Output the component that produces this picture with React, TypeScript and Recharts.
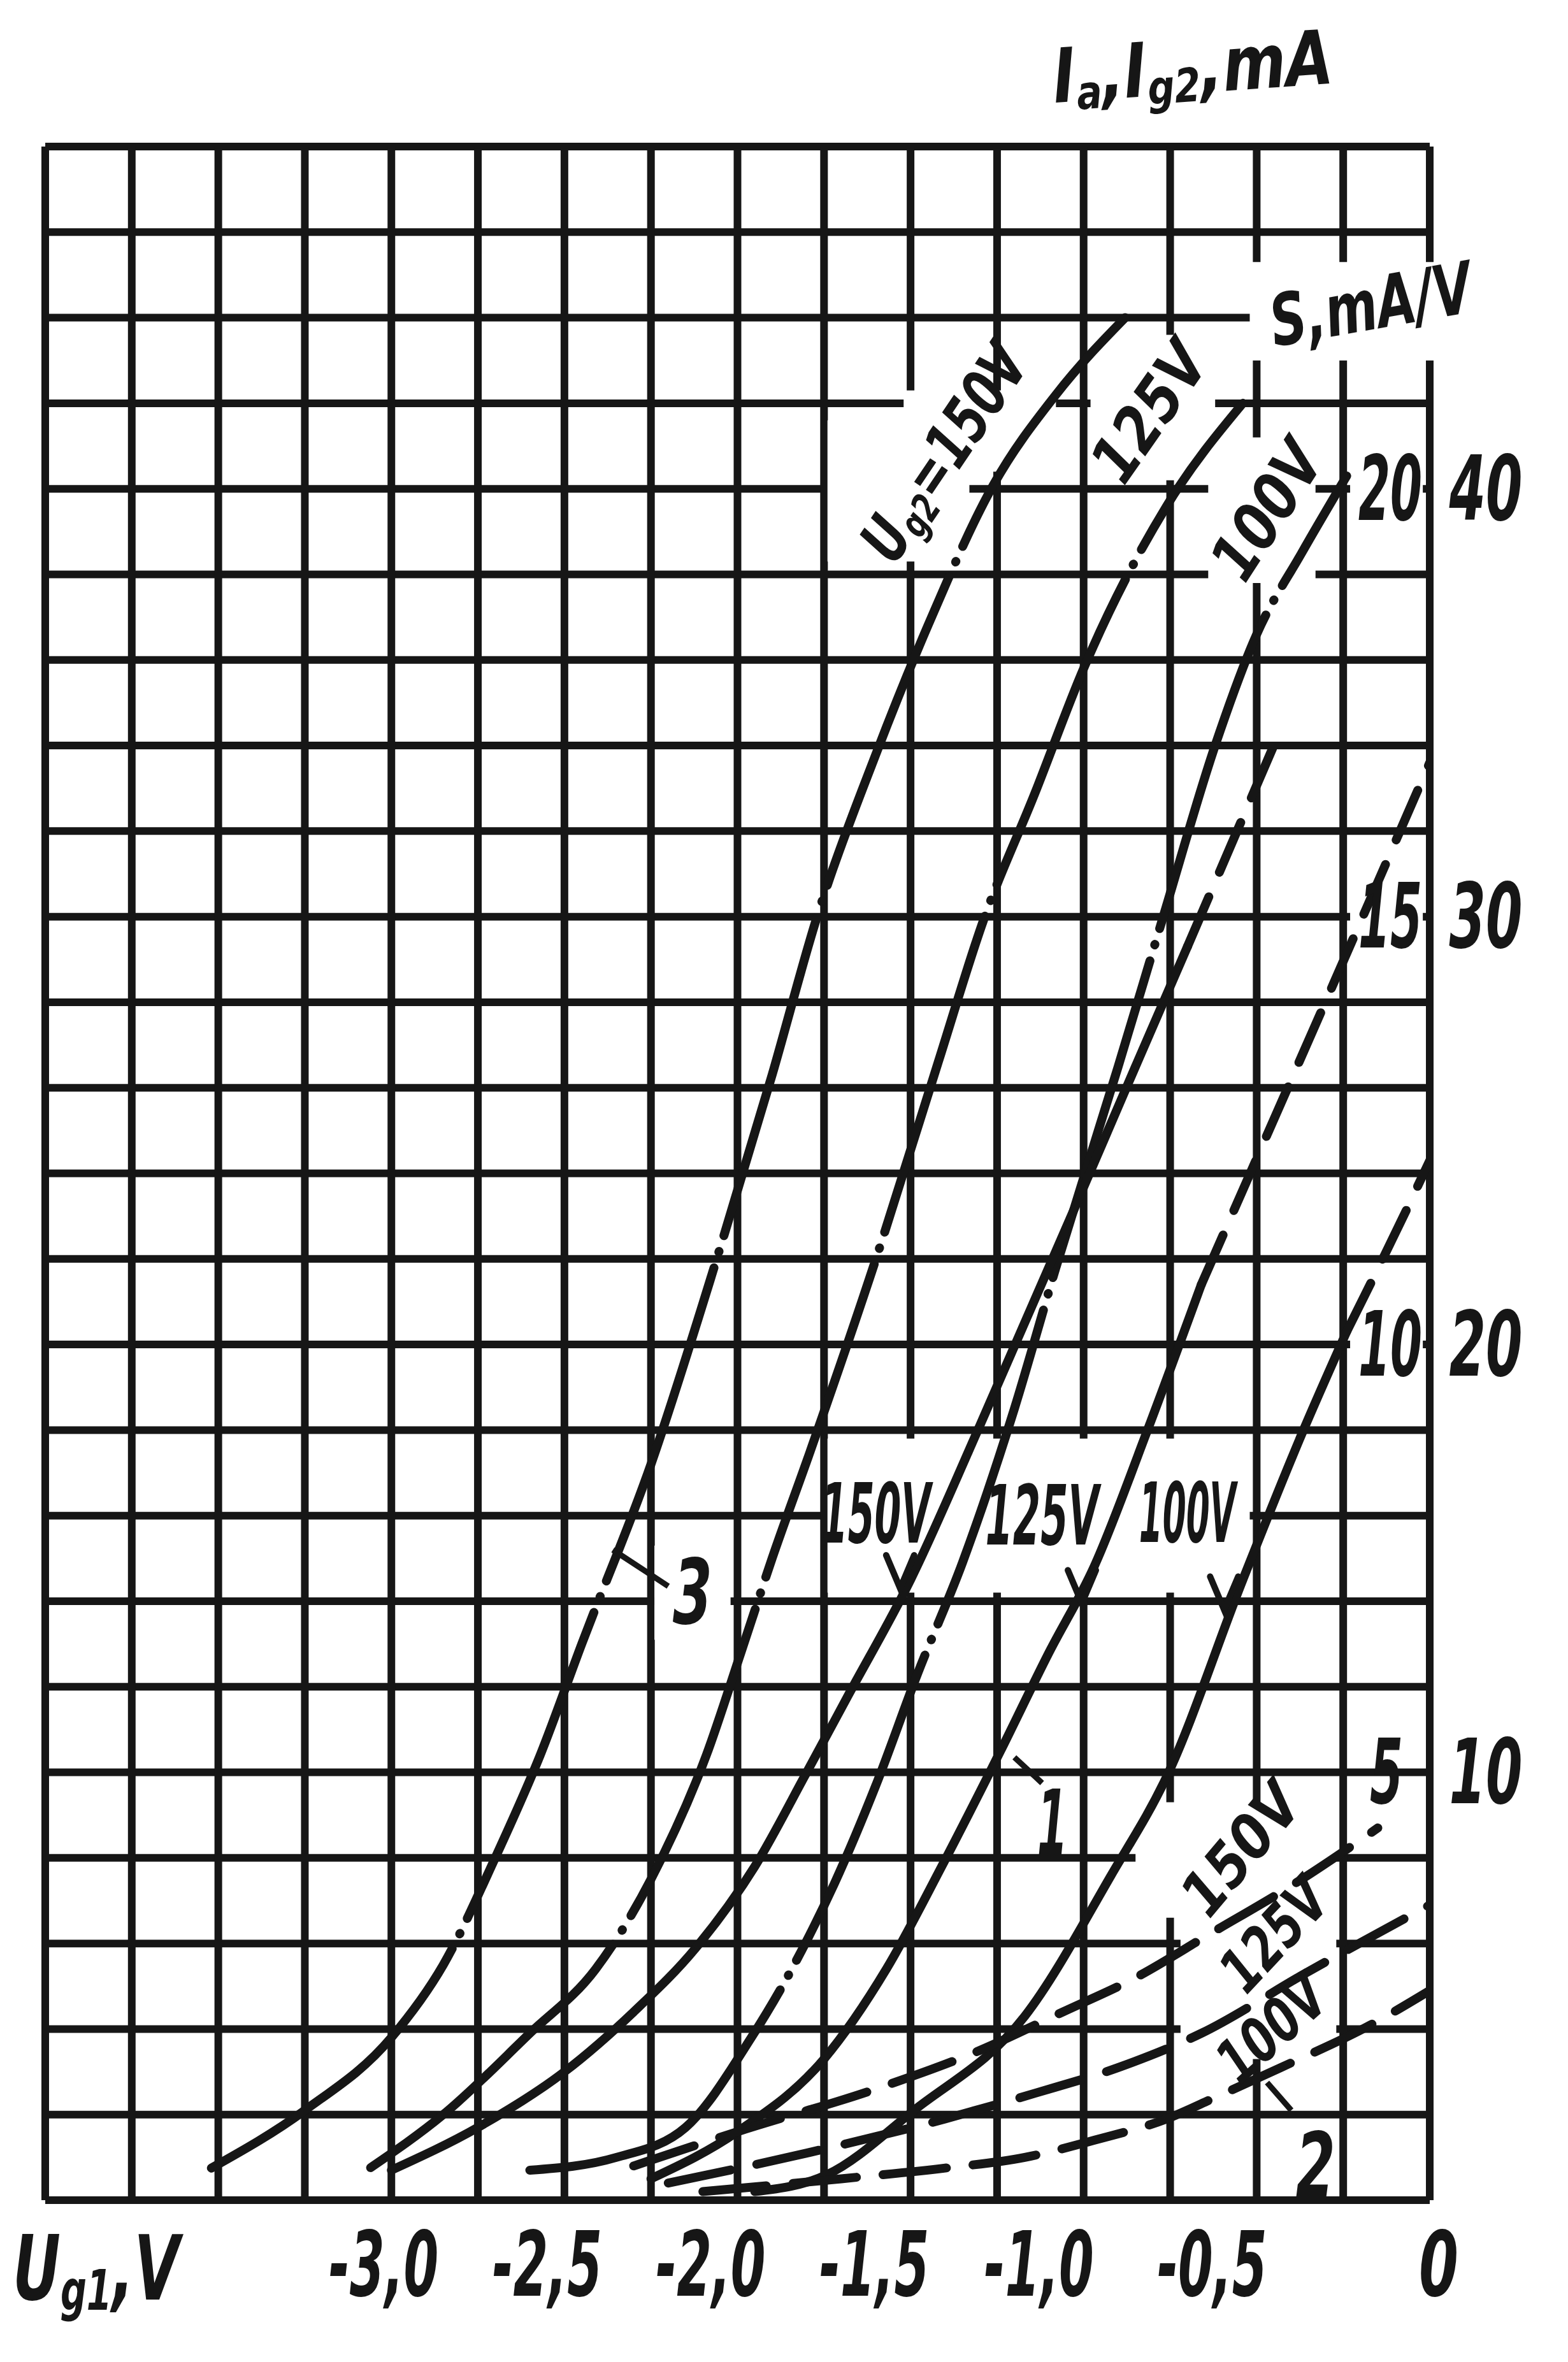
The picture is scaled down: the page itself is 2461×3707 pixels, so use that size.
import React from 'react';
import { LineChart, Line, XAxis, YAxis, CartesianGrid, ReferenceArea, ReferenceDot, ReferenceLine } from 'recharts';

// Ug1 (V) / current (mA) pairs. S curves are drawn on the mA scale (S = I/2).
const X_GRID = [-4, -3.75, -3.5, -3.25, -3, -2.75, -2.5, -2.25, -2, -1.75, -1.5, -1.25, -1, -0.75, -0.5, -0.25, 0];
const Y_GRID = [0, 2, 4, 6, 8, 10, 12, 14, 16, 18, 20, 22, 24, 26, 28, 30, 32, 34, 36, 38, 40, 42, 44, 46, 48];
const X_LABELS = [-3, -2.5, -2, -1.5, -1, -0.5, 0];
const RIGHT_IA = [10, 20, 30, 40];
const RIGHT_S = [5, 10, 15, 20];

// curves "3" (Ug2 = 150 / 125 / 100 V), dash-dot
const C3_150 = [[-3.52, 0.75], [-3.25, 2.1], [-3.0, 3.8], [-2.85, 5.5], [-2.7, 8.0], [-2.57, 10.4], [-2.45, 13.0], [-2.25, 17.2], [-2.06, 22.0], [-1.9, 26.3], [-1.77, 30.0], [-1.6, 33.8], [-1.45, 36.8], [-1.26, 40.1], [-1.08, 42.2], [-0.88, 44.0]];
const C3_125 = [[-3.06, 0.76], [-2.85, 2.0], [-2.6, 3.9], [-2.41, 5.4], [-2.25, 7.5], [-2.09, 10.4], [-1.99, 12.8], [-1.9, 15.0], [-1.79, 17.5], [-1.6, 22.0], [-1.42, 26.6], [-1.29, 29.9], [-1.14, 32.9], [-1.0, 35.8], [-0.76, 39.6], [-0.54, 42.0]];
const C3_100 = [[-2.6, 0.7], [-2.35, 1.0], [-2.15, 1.7], [-1.96, 3.8], [-1.85, 5.3], [-1.72, 7.4], [-1.6, 9.7], [-1.48, 12.3], [-1.35, 14.9], [-1.2, 18.5], [-1.08, 21.8], [-0.9, 26.5], [-0.77, 30.0], [-0.62, 34.0], [-0.5, 36.6], [-0.37, 38.5], [-0.24, 40.3]];

// curves "1", solid below the split value, dashed above it
const C1_150 = [[-3.0, 0.7], [-2.75, 1.7], [-2.5, 3.0], [-2.3, 4.4], [-2.12, 5.9], [-1.95, 7.8], [-1.8, 10.0], [-1.68, 11.8], [-1.5, 14.5], [-1.3, 18.1], [-1.02, 23.3], [-0.85, 26.5], [-0.7, 29.3], [-0.44, 34.2]];
const C1_125 = [[-2.25, 0.5], [-2.0, 1.6], [-1.75, 3.3], [-1.57, 5.4], [-1.41, 7.8], [-1.24, 10.5], [-1.1, 12.8], [-0.97, 14.8], [-0.82, 17.9], [-0.66, 21.4], [-0.47, 24.9], [-0.28, 28.4], [0, 33.6]];
const C1_100 = [[-1.95, 0.2], [-1.74, 0.6], [-1.49, 2.1], [-1.17, 4.3], [-0.92, 7.6], [-0.76, 9.9], [-0.54, 14.5], [-0.37, 17.9], [-0.24, 20.3], [-0.07, 23.1], [0, 24.3]];
const SPLIT_150 = 29.3;
const SPLIT_125 = 21.4;
const SPLIT_100 = 20.3;

// curves "2" (Ig2), dashed
const C2_150 = [[-2.3, 0.8], [-2.0, 1.6], [-1.6, 2.6], [-1.3, 3.5], [-1.06, 4.4], [-0.85, 5.2], [-0.64, 6.2], [-0.37, 7.5], [-0.15, 8.7]];
const C2_125 = [[-2.2, 0.4], [-1.8, 1.1], [-1.4, 1.9], [-1.14, 2.5], [-0.9, 3.1], [-0.66, 3.9], [-0.36, 5.3], [0, 6.9]];
const C2_100 = [[-2.1, 0.2], [-1.7, 0.5], [-1.4, 0.75], [-1.17, 1.0], [-0.97, 1.4], [-0.76, 1.9], [-0.62, 2.4], [-0.43, 3.1], [-0.17, 4.1], [0, 4.9]];

// places where the grid was blanked for lettering [x1, x2, y1, y2]
const BLANKS = [
  [-0.52, 0.02, 43.0, 45.3],
  [-1.74, -1.33, 38.3, 41.6],
  [-1.52, -1.08, 40.4, 42.3],
  [-0.98, -0.62, 40.2, 43.6],
  [-0.64, -0.33, 37.8, 41.2],
  [-1.74, -0.52, 14.2, 17.8],
  [-2.24, -2.02, 13.1, 15.3],
  [-0.23, -0.02, 38.6, 41.4],
  [-0.23, -0.02, 28.6, 31.4],
  [-0.23, -0.02, 18.6, 21.4],
  [-0.85, -0.27, 6.6, 9.3],
  [-0.72, -0.27, 3.3, 6.8],
];

const ARROWS = [[-1.53, 14.3], [-1.005, 13.95], [-0.594, 13.8]];
const LEADERS = [
  [[-2.36, 15.2], [-2.2, 14.35]],
  [[-1.2, 10.35], [-1.12, 9.75]],
  [[-0.47, 2.75], [-0.4, 2.1]],
];

const INK = '#161616';
const FONT = "'Liberation Sans Narrow','DejaVu Sans Condensed','Liberation Sans',Arial,sans-serif";

type Part = { s: string; sub?: boolean };
type Lbl = { x: number; y: number; t?: string; parts?: Part[]; dx?: number; dy?: number; rot?: number; fs: number; w: number };

const LABELS: Lbl[] = [
  { x: -0.685, y: 48, dy: -125, rot: -4, fs: 118, w: 440, parts: [{ s: 'I' }, { s: 'a', sub: true }, { s: ',I' }, { s: 'g2', sub: true }, { s: ',mA' }] },
  { x: -0.17, y: 44.3, rot: -10, fs: 112, w: 320, t: 'S,mA/V' },
  { x: -1.39, y: 41.0, rot: -56, fs: 100, w: 410, parts: [{ s: 'U' }, { s: 'g2', sub: true }, { s: ' =150V' }] },
  { x: -0.81, y: 41.8, rot: -55, fs: 100, w: 240, t: '125V' },
  { x: -0.47, y: 39.5, rot: -57, fs: 100, w: 235, t: '100V' },
  { x: -1.6, y: 16.05, fs: 130, w: 172, t: '150V' },
  { x: -1.12, y: 16.0, fs: 130, w: 178, t: '125V' },
  { x: -0.7, y: 16.05, fs: 130, w: 152, t: '100V' },
  { x: -2.13, y: 14.2, fs: 140, w: 62, t: '3' },
  { x: -1.09, y: 8.8, fs: 140, w: 48, t: '1' },
  { x: -0.33, y: 0.8, fs: 140, w: 62, t: '2' },
  { x: -0.545, y: 8.2, rot: -50, fs: 95, w: 235, t: '150V' },
  { x: -0.45, y: 6.2, rot: -47, fs: 95, w: 200, t: '125V' },
  { x: -0.457, y: 4.0, rot: -42, fs: 95, w: 195, t: '100V' },
  { x: -4, y: 0, dx: 80, dy: 108, fs: 140, w: 262, parts: [{ s: 'U' }, { s: 'g1', sub: true }, { s: ',V' }] },
];

const pts = (a: number[][]) => a.map(([x, y]) => ({ x, y }));
const below = (a: number[][], s: number) => pts(a.filter(p => p[1] <= s));
const above = (a: number[][], s: number) => pts(a.filter(p => p[1] >= s));

// natural text width, so that lettering can be squeezed into the narrow hand of the original
let ctx: CanvasRenderingContext2D | null = null;
const measure = (s: string, fs: number) => {
  if (!ctx && typeof document !== 'undefined') ctx = document.createElement('canvas').getContext('2d');
  if (!ctx) return s.length * fs * 0.55;
  ctx.font = `italic bold ${fs}px ${FONT}`;
  return ctx.measureText(s).width || s.length * fs * 0.55;
};

const textShape = (l: Lbl) => (p: any) => {
  const cx = p.cx + (l.dx || 0);
  const cy = p.cy + (l.dy || 0);
  const parts: Part[] = l.parts || [{ s: l.t || '' }];
  const sizes = parts.map(pt => (pt.sub ? l.fs * 0.62 : l.fs));
  const widths = parts.map((pt, i) => measure(pt.s, sizes[i]));
  const total = widths.reduce((a, b) => a + b, 0);
  const sx = l.w / total;
  let acc = -total / 2;
  return (
    <g transform={`translate(${cx} ${cy}) rotate(${l.rot || 0}) scale(${sx} 1)`}>
      {parts.map((pt, i) => {
        const x0 = acc;
        acc += widths[i];
        return (
          <text
            key={i}
            x={x0}
            y={pt.sub ? l.fs * 0.24 : 0}
            textAnchor="start"
            dominantBaseline="central"
            fontFamily={FONT}
            fontStyle="italic"
            fontWeight="bold"
            fontSize={sizes[i]}
            fill={INK}
          >
            {pt.s}
          </text>
        );
      })}
    </g>
  );
};

const chevron = (p: any) => (
  <path d={`M ${p.cx - 22} ${p.cy - 52} L ${p.cx} ${p.cy} L ${p.cx + 22} ${p.cy - 52}`} stroke={INK} strokeWidth={10} fill="none" strokeLinecap="round" />
);

const xText = (v: number) => (v === 0 ? '0' : '-' + Math.abs(v).toFixed(1).replace('.', ','));
// the hand-lettered tick numbers drift a little left of their grid lines
const xShift = (v: number) => (v === 0 ? 14 : Math.max(-70, -12 - 30 * (v + 3)));

const lineProps = {
  dataKey: 'y',
  type: 'monotone' as const,
  stroke: INK,
  strokeWidth: 14,
  dot: false,
  activeDot: false,
  isAnimationActive: false,
  strokeLinecap: 'round' as const,
};

const DASH_DOT = '520 26 1 26';
const DASH_1 = '85 42';
const DASH_2 = '100 42';

export default function App() {
  return (
    <div style={{ background: '#fff', width: 2461, height: 3707 }}>
      <style>{'body{margin:0;background:#fff}'}</style>
      <LineChart width={2461} height={3707} margin={{ top: 230, right: 217, bottom: 254, left: 71 }}>
        <XAxis dataKey="x" type="number" domain={[-4, 0]} ticks={X_GRID} interval={0} allowDataOverflow hide />
        <YAxis type="number" domain={[0, 48]} ticks={Y_GRID} interval={0} allowDataOverflow hide />
        <CartesianGrid stroke={INK} strokeWidth={12} />

        {BLANKS.map(([x1, x2, y1, y2], i) => (
          <ReferenceArea key={'b' + i} x1={x1} x2={x2} y1={y1} y2={y2} fill="#fff" fillOpacity={1} stroke="none" ifOverflow="visible" zIndex={-50} />
        ))}

        <Line {...lineProps} data={pts(C3_150)} strokeDasharray={DASH_DOT} />
        <Line {...lineProps} data={pts(C3_125)} strokeDasharray={DASH_DOT} />
        <Line {...lineProps} data={pts(C3_100)} strokeDasharray={DASH_DOT} />

        <Line {...lineProps} data={below(C1_150, SPLIT_150)} />
        <Line {...lineProps} data={above(C1_150, SPLIT_150)} strokeDasharray={DASH_1} />
        <Line {...lineProps} data={below(C1_125, SPLIT_125)} />
        <Line {...lineProps} data={above(C1_125, SPLIT_125)} strokeDasharray={DASH_1} />
        <Line {...lineProps} data={below(C1_100, SPLIT_100)} />
        <Line {...lineProps} data={above(C1_100, SPLIT_100)} strokeDasharray={DASH_1} />

        <Line {...lineProps} data={pts(C2_150)} strokeDasharray={DASH_2} />
        <Line {...lineProps} data={pts(C2_125)} strokeDasharray={DASH_2} />
        <Line {...lineProps} data={pts(C2_100)} strokeDasharray={DASH_2} />

        {LEADERS.map((s, i) => (
          <ReferenceLine key={'ld' + i} segment={[{ x: s[0][0], y: s[0][1] }, { x: s[1][0], y: s[1][1] }]} stroke={INK} strokeWidth={9} ifOverflow="visible" />
        ))}
        {ARROWS.map(([x, y], i) => (
          <ReferenceDot key={'ar' + i} x={x} y={y} r={1} ifOverflow="visible" shape={chevron} />
        ))}

        {X_LABELS.map((v) => (
          <ReferenceDot key={'xl' + v} x={v} y={0} r={1} ifOverflow="visible"
            shape={textShape({ x: v, y: 0, dx: xShift(v), dy: 102, fs: 140, w: v === 0 ? 62 : 172, t: xText(v) })} />
        ))}
        {RIGHT_IA.map((v) => (
          <ReferenceDot key={'ri' + v} x={0} y={v} r={1} ifOverflow="visible"
            shape={textShape({ x: 0, y: v, dx: 88, fs: 140, w: 115, t: String(v) })} />
        ))}
        {RIGHT_S.map((v) => (
          <ReferenceDot key={'rs' + v} x={0} y={v * 2} r={1} ifOverflow="visible"
            shape={textShape({ x: 0, y: v * 2, dx: v < 10 ? -68 : -62, fs: 140, w: v < 10 ? 52 : 100, t: String(v) })} />
        ))}
        {LABELS.map((l, i) => (
          <ReferenceDot key={'lb' + i} x={l.x} y={l.y} r={1} ifOverflow="visible" shape={textShape(l)} />
        ))}
      </LineChart>
    </div>
  );
}
